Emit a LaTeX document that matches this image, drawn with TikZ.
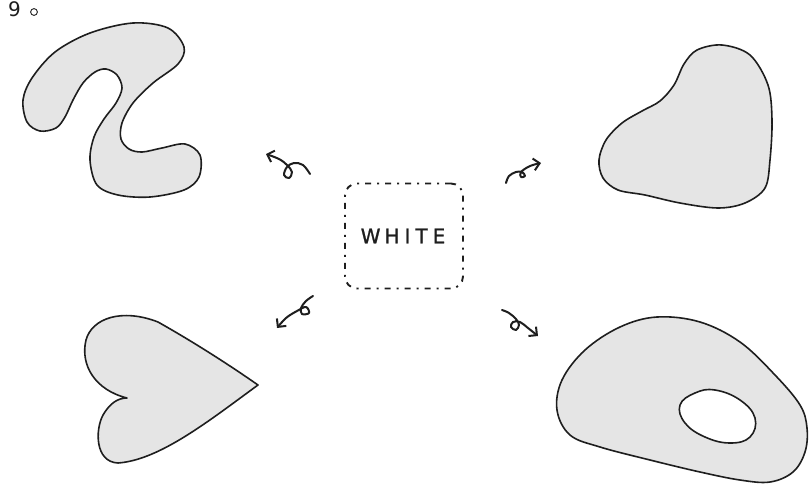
\documentclass[tikz,border=0pt]{standalone}
\usepackage{fontspec}
\setmainfont{DejaVu Sans}
\newfontfamily\markerfont[FakeBold=1.2]{DejaVu Sans}
\usetikzlibrary{arrows.meta}
\definecolor{blobfill}{HTML}{E5E5E5}
\definecolor{inkline}{HTML}{1E1E1E}
\tikzset{
  blob/.style={draw=inkline, line width=1.6pt, fill=blobfill, line join=round},
  curl/.style={draw=inkline, line width=2pt, line cap=round, line join=round,
    -{Straight Barb[length=6pt,width=12pt,line width=2pt]}},
  sketchbox/.style={draw=inkline, line width=1.9pt, rounded corners=12pt,
    dash pattern=on 6pt off 6pt on 2pt off 6pt,
    minimum width=118pt, minimum height=105pt, inner sep=0pt},
  handtext/.style={font=\fontsize{20}{20}\selectfont, text=inkline, inner sep=0pt}
}
\begin{document}
\begin{tikzpicture}[x=1pt,y=-1pt]
\useasboundingbox (0,0) rectangle (809,499);

% page number in the corner
\node[handtext, anchor=west] (pnum) at (8,9) {9};
\node[draw=inkline, circle, line width=0.9pt, inner sep=2.4pt] (pdot) at (34,12) {};

% S-shaped blob
\path[blob] plot[smooth cycle, tension=0.55] coordinates {
  (23,100) (32,78) (55,52) (90,33) (133,23) (168,28) (184,47) (178,64)
  (153,83) (133,103) (122,123) (121,139) (129,149) (142,152) (162,148)
  (185,144) (200,155) (199,177) (184,190) (150,197) (118,195) (97,185)
  (90,160) (94,137) (104,119) (116,103) (122,88) (117,75) (106,69)
  (95,72) (83,83) (73,100) (65,117) (56,128) (40,131) (27,122)};

% rounded blob, top right
\path[blob] plot[smooth cycle, tension=0.55] coordinates {
  (697,50) (722,45) (750,55) (768,85) (772,120) (770,160) (765,188)
  (745,203) (718,208) (680,203) (645,195) (618,190) (603,178) (599,160)
  (606,140) (622,123) (642,111) (660,101) (674,85) (684,64)};

% heart
\path[blob] (127,398) .. controls (95,390) and (80,365) .. (86,340)
  .. controls (92,318) and (122,308) .. (158,322)
  .. controls (190,340) and (225,362) .. (258,385)
  .. controls (210,420) and (160,460) .. (118,463)
  .. controls (95,462) and (95,430) .. (103,415)
  .. controls (110,403) and (118,398) .. (127,398) -- cycle;

% blob with a hole, bottom right
\path[blob, even odd rule]
  plot[smooth cycle, tension=0.6] coordinates {
  (657,317) (700,322) (740,342) (775,375) (800,405) (807,428) (805,452)
  (793,472) (770,482) (740,480) (700,472) (650,460) (600,447) (570,435)
  (557,410) (562,380) (585,350) (620,327)}
  plot[smooth cycle, tension=0.7] coordinates {
  (680,405) (695,393) (715,390) (740,400) (755,418) (750,437) (730,443)
  (705,437) (685,423)};

% central dashed box
\node[sketchbox] (box) at (404,236) {};
\node[handtext, font=\markerfont\fontsize{20}{20}\selectfont] (word) at (403,236)
  {W\hspace{4pt}H\hspace{5pt}I\hspace{5pt}T\hspace{5pt}E};

% curly arrows pointing from the box towards the shapes
\coordinate (ulS) at (310,174);
\coordinate (ulT) at (266,154);
\draw[curl] plot[smooth, tension=0.6] coordinates {
  (ulS) (303,165) (294,163) (287,167) (284,175) (289,178) (292,172)
  (287,165) (279,159) (ulT)};

\coordinate (urS) at (506,183);
\coordinate (urT) at (541,163);
\draw[curl] plot[smooth, tension=0.6] coordinates {
  (urS) (509,176) (516,172) (522,172) (525,176) (521,177) (521,172)
  (530,166) (urT)};

\coordinate (llS) at (313,296);
\coordinate (llT) at (277,328);
\draw[curl] plot[smooth, tension=0.6] coordinates {
  (llS) (306,301) (301,308) (302,314) (309,313) (306,307) (297,311)
  (286,318) (llT)};

\coordinate (lrS) at (502,310);
\coordinate (lrT) at (538,336);
\draw[curl] plot[smooth, tension=0.6] coordinates {
  (lrS) (509,313) (516,319) (519,325) (516,330) (511,327) (513,322)
  (520,322) (528,328) (lrT)};
\end{tikzpicture}
\end{document}
